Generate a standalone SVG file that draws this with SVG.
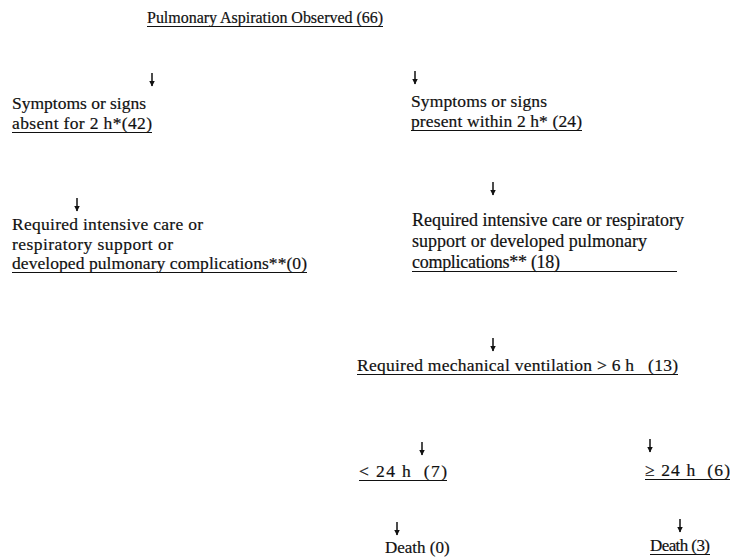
<svg xmlns="http://www.w3.org/2000/svg" width="733" height="558" viewBox="0 0 733 558">
<defs>
<style>
text{font-family:"Liberation Serif","Times New Roman",serif;font-size:17.5px;fill:#111;stroke:#111;stroke-width:0.2}
.t16{font-size:16px}
.t17{font-size:17px}
.t18{font-size:18px}
.ul{stroke:#111;stroke-width:1.1}
.ar{stroke:#111;stroke-width:1.5;marker-end:url(#ah)}
</style>
<marker id="ah" markerUnits="userSpaceOnUse" markerWidth="6" markerHeight="6" refX="5.5" refY="3" orient="auto">
<path d="M0,0 L6,3 L0,6 z" fill="#111"/>
</marker>
</defs>
<rect width="733" height="558" fill="#fff"/>
<g id="connectors">
<line class="ar" x1="152" y1="73" x2="152" y2="86"/>
<line class="ar" x1="415" y1="71" x2="415" y2="84"/>
<line class="ar" x1="77" y1="198" x2="77" y2="211"/>
<line class="ar" x1="493" y1="182" x2="493" y2="195"/>
<line class="ar" x1="493" y1="338" x2="493" y2="351"/>
<line class="ar" x1="422" y1="442" x2="422" y2="455"/>
<line class="ar" x1="650" y1="439" x2="650" y2="452"/>
<line class="ar" x1="397" y1="522" x2="397" y2="535"/>
<line class="ar" x1="680" y1="519" x2="680" y2="532"/>
</g>
<g id="n-root">
<text class="t16" x="147" y="23" textLength="236" lengthAdjust="spacing">Pulmonary Aspiration Observed (66)</text>
<line class="ul" x1="147" y1="26.5" x2="383" y2="26.5"/>
</g>
<g id="n-absent">
<text x="12" y="109" textLength="134" lengthAdjust="spacing">Symptoms or signs</text>
<text x="12" y="129" textLength="140" lengthAdjust="spacing">absent for 2 h*(42)</text>
<line class="ul" x1="12" y1="132.5" x2="152" y2="132.5"/>
</g>
<g id="n-present">
<text x="411" y="107" textLength="136" lengthAdjust="spacing">Symptoms or signs</text>
<text x="411" y="127" textLength="171" lengthAdjust="spacing">present within 2 h* (24)</text>
<line class="ul" x1="411" y1="130.5" x2="582" y2="130.5"/>
</g>
<g id="n-left-care">
<text x="12" y="230" textLength="191" lengthAdjust="spacing">Required intensive care or</text>
<text x="12" y="250" textLength="161" lengthAdjust="spacing">respiratory support or</text>
<text x="12" y="269" textLength="295" lengthAdjust="spacing">developed pulmonary complications**(0)</text>
<line class="ul" x1="12" y1="272.5" x2="307" y2="272.5"/>
</g>
<g id="n-right-care">
<text class="t18" x="412" y="226" textLength="272" lengthAdjust="spacing">Required intensive care or respiratory</text>
<text class="t18" x="412" y="247" textLength="235" lengthAdjust="spacing">support or developed pulmonary</text>
<text class="t18" x="412" y="268" textLength="148" lengthAdjust="spacing">complications** (18)</text>
<line class="ul" x1="412" y1="271.5" x2="677" y2="271.5"/>
</g>
<g id="n-mech">
<text x="357" y="371" textLength="321" lengthAdjust="spacing" xml:space="preserve">Required mechanical ventilation &gt; 6 h   (13)</text>
<line class="ul" x1="357" y1="374.5" x2="678" y2="374.5"/>
</g>
<g id="n-lt24">
<text x="359" y="477" textLength="88" lengthAdjust="spacing" xml:space="preserve">&lt; 24 h  (7)</text>
<line class="ul" x1="359" y1="480.5" x2="447" y2="480.5"/>
</g>
<g id="n-ge24">
<text x="645" y="476" textLength="85" lengthAdjust="spacing" xml:space="preserve">≥ 24 h  (6)</text>
<line class="ul" x1="645" y1="479.5" x2="730" y2="479.5"/>
</g>
<g id="n-death0">
<text class="t17" x="385" y="553">Death (0)</text>
</g>
<g id="n-death3">
<text class="t17" x="650" y="551" textLength="60" lengthAdjust="spacing">Death (3)</text>
<line class="ul" x1="650" y1="554.5" x2="710" y2="554.5"/>
</g>
</svg>
